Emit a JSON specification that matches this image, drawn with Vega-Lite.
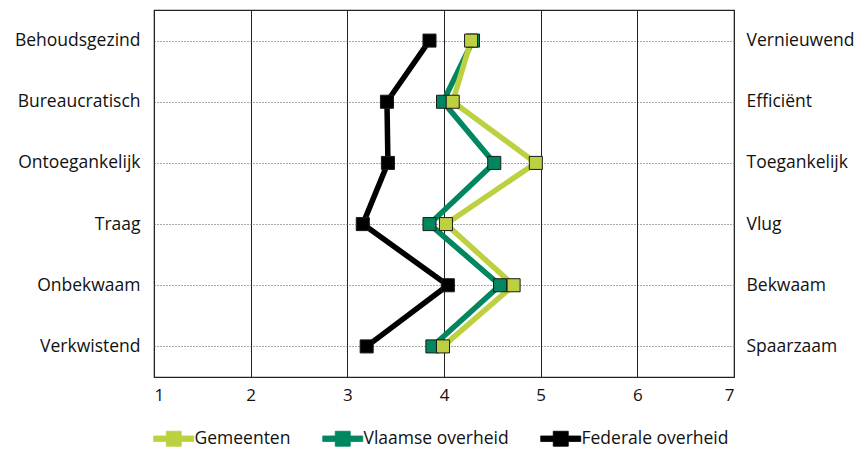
{
  "$schema": "https://vega.github.io/schema/vega-lite/v6.json",
  "width": 580,
  "height": 367,
  "autosize": "none",
  "padding": {"left": 154, "top": 10, "right": 123, "bottom": 73},
  "background": "white",
  "config": {
    "font": "Open Sans",
    "view": {"stroke": "#222", "strokeWidth": 1.2},
    "axis": {"labelFont": "Open Sans", "labelFontSize": 17.5, "labelColor": "#111", "ticks": false, "domain": false, "title": null}
  },
  "data": {
    "values": [
      {"series": "Federale overheid", "rank": 1, "left": "Behoudsgezind", "right": "Vernieuwend", "score": 3.85},
      {"series": "Federale overheid", "rank": 2, "left": "Bureaucratisch", "right": "Efficiënt", "score": 3.41},
      {"series": "Federale overheid", "rank": 3, "left": "Ontoegankelijk", "right": "Toegankelijk", "score": 3.42},
      {"series": "Federale overheid", "rank": 4, "left": "Traag", "right": "Vlug", "score": 3.16},
      {"series": "Federale overheid", "rank": 5, "left": "Onbekwaam", "right": "Bekwaam", "score": 4.04},
      {"series": "Federale overheid", "rank": 6, "left": "Verkwistend", "right": "Spaarzaam", "score": 3.2},
      {"series": "Vlaamse overheid", "rank": 1, "left": "Behoudsgezind", "right": "Vernieuwend", "score": 4.3},
      {"series": "Vlaamse overheid", "rank": 2, "left": "Bureaucratisch", "right": "Efficiënt", "score": 3.99},
      {"series": "Vlaamse overheid", "rank": 3, "left": "Ontoegankelijk", "right": "Toegankelijk", "score": 4.52},
      {"series": "Vlaamse overheid", "rank": 4, "left": "Traag", "right": "Vlug", "score": 3.85},
      {"series": "Vlaamse overheid", "rank": 5, "left": "Onbekwaam", "right": "Bekwaam", "score": 4.58},
      {"series": "Vlaamse overheid", "rank": 6, "left": "Verkwistend", "right": "Spaarzaam", "score": 3.88},
      {"series": "Gemeenten", "rank": 1, "left": "Behoudsgezind", "right": "Vernieuwend", "score": 4.28},
      {"series": "Gemeenten", "rank": 2, "left": "Bureaucratisch", "right": "Efficiënt", "score": 4.09},
      {"series": "Gemeenten", "rank": 3, "left": "Ontoegankelijk", "right": "Toegankelijk", "score": 4.95},
      {"series": "Gemeenten", "rank": 4, "left": "Traag", "right": "Vlug", "score": 4.02},
      {"series": "Gemeenten", "rank": 5, "left": "Onbekwaam", "right": "Bekwaam", "score": 4.72},
      {"series": "Gemeenten", "rank": 6, "left": "Verkwistend", "right": "Spaarzaam", "score": 3.99}
    ]
  },
  "encoding": {
    "x": {
      "field": "score", "type": "quantitative",
      "scale": {"domain": [1, 7], "nice": false, "zero": false},
      "axis": {"values": [1, 2, 3, 4, 5, 6, 7], "grid": true, "gridColor": "#222", "gridWidth": 1, "gridOpacity": 1, "labelPadding": 10, "labelFontSize": 17}
    }
  },
  "layer": [
    {
      "mark": {"type": "line", "strokeWidth": 5.5, "strokeJoin": "miter"},
      "encoding": {
        "y": {
          "field": "left", "type": "nominal",
          "scale": {"domain": ["Behoudsgezind", "Bureaucratisch", "Ontoegankelijk", "Traag", "Onbekwaam", "Verkwistend"]},
          "axis": {"orient": "left", "grid": true, "gridColor": "#555", "gridDash": [1, 2], "gridWidth": 1, "labelPadding": 14}
        },
        "color": {
          "field": "series", "type": "nominal",
          "scale": {"domain": ["Gemeenten", "Vlaamse overheid", "Federale overheid"], "range": ["#bdd040", "#00875f", "#000000"]},
          "legend": {
            "orient": "none", "legendX": 11, "legendY": 420, "direction": "horizontal", "columns": 3, "gridAlign": "none",
            "title": null,
            "symbolSize": 225,
            "labelFont": "Open Sans", "labelFontSize": 17.5, "labelColor": "#111", "labelOffset": 12, "columnPadding": 30,
            "encode": {
              "symbols": {
                "update": {
                  "shape": {"value": "M-2.67,-0.37 L-1,-0.37 L-1,-1 L1,-1 L1,-0.37 L2.67,-0.37 L2.67,0.37 L1,0.37 L1,1 L-1,1 L-1,0.37 L-2.67,0.37 Z"},
                  "size": {"value": 225},
                  "fill": {"scale": "color", "field": "value"},
                  "fillOpacity": {"value": 1},
                  "stroke": {"value": "#1a1a1a"},
                  "strokeWidth": {"value": 0.8},
                  "opacity": {"value": 1}
                }
              }
            }
          }
        },
        "detail": {"field": "series"},
        "order": {"field": "rank", "type": "quantitative"}
      }
    },
    {
      "mark": {"type": "point", "shape": "square", "filled": true, "size": 170, "opacity": 1, "stroke": "#1a1a1a", "strokeWidth": 1},
      "encoding": {
        "y": {"field": "left", "type": "nominal", "scale": {"domain": ["Behoudsgezind", "Bureaucratisch", "Ontoegankelijk", "Traag", "Onbekwaam", "Verkwistend"]}, "axis": null},
        "color": {
          "field": "series", "type": "nominal",
          "scale": {"domain": ["Gemeenten", "Vlaamse overheid", "Federale overheid"], "range": ["#bdd040", "#00875f", "#000000"]}
        }
      }
    },
    {
      "mark": {"type": "point", "opacity": 0},
      "encoding": {
        "y": {
          "field": "right", "type": "nominal",
          "scale": {"domain": ["Vernieuwend", "Efficiënt", "Toegankelijk", "Vlug", "Bekwaam", "Spaarzaam"]},
          "axis": {"orient": "right", "grid": false, "labelPadding": 12}
        }
      }
    }
  ],
  "resolve": {"scale": {"y": "independent"}, "axis": {"y": "independent"}}
}
